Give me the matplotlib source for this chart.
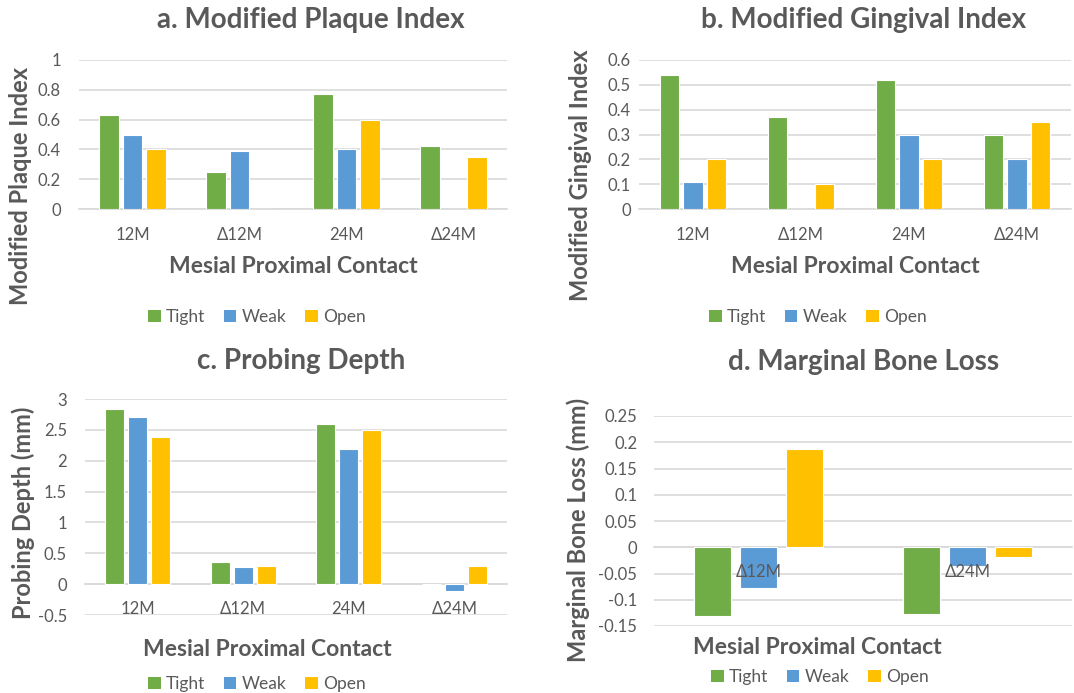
import matplotlib
matplotlib.use("Agg")
import matplotlib.pyplot as plt
from matplotlib.patches import Patch
import numpy as np

plt.rcParams['font.family'] = ['Lato', 'DejaVu Sans']

series = ["Tight", "Weak", "Open"]
colors = ["#70AD47", "#5B9BD5", "#FFC000"]

cats_4 = ["12M", "\u039412M", "24M", "\u039424M"]
cats_2 = ["\u039412M", "\u039424M"]

# a. Modified Plaque Index
plaque_tight = [0.63, 0.25, 0.77, 0.42]
plaque_weak = [0.50, 0.39, 0.40, 0.0]
plaque_open = [0.40, 0.0, 0.60, 0.35]

# b. Modified Gingival Index
gingival_tight = [0.54, 0.37, 0.52, 0.30]
gingival_weak = [0.11, 0.0, 0.30, 0.20]
gingival_open = [0.20, 0.10, 0.20, 0.35]

# c. Probing Depth
probing_tight = [2.84, 0.36, 2.59, 0.0]
probing_weak = [2.71, 0.27, 2.19, -0.11]
probing_open = [2.39, 0.29, 2.50, 0.29]

# d. Marginal Bone Loss
bone_tight = [-0.131, -0.128]
bone_weak = [-0.077, -0.035]
bone_open = [0.188, -0.018]

W, H = 1074, 693
fig = plt.figure(figsize=(W / 100, H / 100), dpi=100)
txt = "#595959"
grid = "#D9D9D9"

TITLE_FS = 20
XLAB_FS = 16.5
YLAB_FS = 17
TICK_FS = 12
LEG_FS = 12.5


def px_axes(left, right, top, bottom):
    return fig.add_axes([left / W, 1 - bottom / H, (right - left) / W, (bottom - top) / H])


def fx(x):
    return x / W


def fy(y):
    return 1 - y / H


def draw_panel(ax, cats, data, ylim, yticks, ticklabels, ypad, xpad):
    x = np.arange(len(cats))
    step = 0.22
    for i, (vals, c) in enumerate(zip(data, colors)):
        ax.bar(x + (i - 1) * step, vals, width=0.18, color=c,
               edgecolor="white", linewidth=0.8, zorder=3)
    ax.set_xlim(-0.5, len(cats) - 0.5)
    ax.set_ylim(*ylim)
    ax.set_yticks(yticks)
    ax.set_yticklabels(ticklabels)
    ax.set_xticks(x)
    ax.set_xticklabels(cats)
    ax.yaxis.grid(True, color=grid, linewidth=1.2, zorder=0)
    ax.set_axisbelow(True)
    ax.xaxis.set_zorder(5)  # category labels over the bars
    for s in ["top", "right", "left"]:
        ax.spines[s].set_visible(False)
    ax.spines["bottom"].set_position(("data", 0))
    ax.spines["bottom"].set_color(grid)
    ax.spines["bottom"].set_linewidth(1.2)
    ax.spines["bottom"].set_zorder(1)
    ax.tick_params(axis="both", length=0, colors=txt, labelsize=TICK_FS)
    ax.tick_params(axis="y", pad=ypad)
    ax.tick_params(axis="x", pad=xpad)


def legend_at(cx, cy):
    handles = [Patch(facecolor=c, edgecolor="none") for c in colors]
    leg = fig.legend(handles, series, loc="center", bbox_to_anchor=(fx(cx), fy(cy)),
                     ncol=3, frameon=False, fontsize=LEG_FS, handlelength=0.7,
                     handleheight=0.7, handletextpad=0.3, columnspacing=1.1)
    for t in leg.get_texts():
        t.set_color(txt)


def labels(title, tpos, xlab, xpos, ylab, ypos):
    fig.text(fx(tpos[0]), fy(tpos[1]), title, ha="center", va="center",
             fontsize=TITLE_FS, fontweight="bold", color=txt)
    fig.text(fx(xpos[0]), fy(xpos[1]), xlab, ha="center", va="center",
             fontsize=XLAB_FS, fontweight="bold", color=txt)
    fig.text(fx(ypos[0]), fy(ypos[1]), ylab, ha="center", va="center",
             rotation=90, fontsize=YLAB_FS, fontweight="bold", color=txt)


# panel a
ax_a = px_axes(79, 507, 60, 209)
draw_panel(ax_a, cats_4, [plaque_tight, plaque_weak, plaque_open], (0, 1),
           [0, 0.2, 0.4, 0.6, 0.8, 1], ["0", "0.2", "0.4", "0.6", "0.8", "1"], 13, 13)
labels("a. Modified Plaque Index", (311, 20), "Mesial Proximal Contact", (293, 267),
       "Modified Plaque Index", (21, 186))
legend_at(257, 317)

# panel b
ax_b = px_axes(639, 1071, 60, 209)
draw_panel(ax_b, cats_4, [gingival_tight, gingival_weak, gingival_open], (0, 0.6),
           [0, 0.1, 0.2, 0.3, 0.4, 0.5, 0.6], ["0", "0.1", "0.2", "0.3", "0.4", "0.5", "0.6"], 6, 13)
labels("b. Modified Gingival Index", (864, 20), "Mesial Proximal Contact", (855, 267),
       "Modified Gingival Index", (580, 175))
legend_at(818, 317)

# panel c
ax_c = px_axes(85, 507, 399, 615)
draw_panel(ax_c, cats_4, [probing_tight, probing_weak, probing_open], (-0.5, 3),
           [-0.5, 0, 0.5, 1, 1.5, 2, 2.5, 3], ["-0.5", "0", "0.5", "1", "1.5", "2", "2.5", "3"], 13, 12)
labels("c. Probing Depth", (301, 361), "Mesial Proximal Contact", (267, 650),
       "Probing Depth (mm)", (23, 513))
legend_at(257, 684)

# panel d
ax_d = px_axes(654, 1072, 416, 626)
draw_panel(ax_d, cats_2, [bone_tight, bone_weak, bone_open], (-0.15, 0.25),
           [-0.15, -0.1, -0.05, 0, 0.05, 0.1, 0.15, 0.2, 0.25],
           ["-0.15", "-0.1", "-0.05", "0", "0.05", "0.1", "0.15", "0.2", "0.25"], 12, 12)
labels("d. Marginal Bone Loss", (864, 362), "Mesial Proximal Contact", (817, 647),
       "Marginal Bone Loss (mm)", (578, 530))
legend_at(820, 677)

fig.savefig("out.png", dpi=100)
